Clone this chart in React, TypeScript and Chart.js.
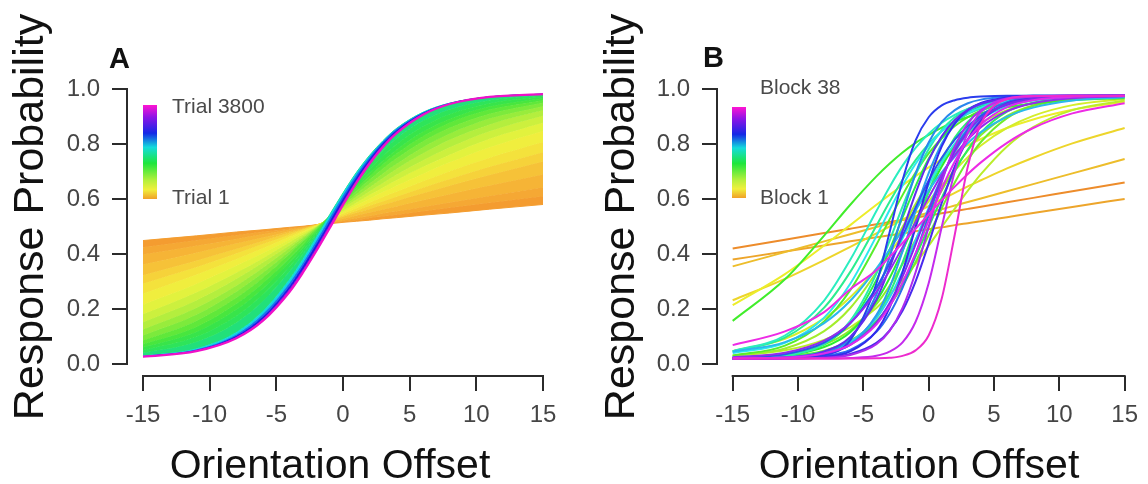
import React, { useEffect, useRef } from "react";
import { Chart, registerables } from "chart.js";

Chart.register(...registerables);

const FONT = "'Liberation Sans', Arial, Helvetica, sans-serif";

// shared sampling of orientation offsets (x) for every curve
const X_OFFSETS = [-15, -11, -8, -6, -4, -3, -2, -1, 0, 1, 2, 3, 4, 6, 8, 11, 15];
const X_TICKS = [-15, -10, -5, 0, 5, 10, 15];
const Y_TICKS = [0, 0.2, 0.4, 0.6, 0.8, 1.0];
const X_LIMITS = [-16.2, 16.2];
const Y_LIMITS = [-0.0432, 1.0432];
const X_TITLE = "Orientation Offset";
const Y_TITLE = "Response Probability";

// Panel A: response probability curves from Trial 1 (first row) to Trial 3800 (last row)
const TRIAL_CURVES: number[][] = [
  [0.449, 0.466, 0.480, 0.488, 0.497, 0.501, 0.506, 0.510, 0.515, 0.519, 0.523, 0.528, 0.532, 0.541, 0.549, 0.563, 0.580],
  [0.425, 0.450, 0.468, 0.481, 0.493, 0.499, 0.506, 0.512, 0.518, 0.524, 0.531, 0.537, 0.543, 0.555, 0.568, 0.586, 0.610],
  [0.398, 0.430, 0.455, 0.472, 0.488, 0.497, 0.505, 0.513, 0.522, 0.530, 0.538, 0.547, 0.555, 0.571, 0.587, 0.611, 0.643],
  [0.362, 0.405, 0.438, 0.460, 0.483, 0.494, 0.506, 0.517, 0.528, 0.540, 0.551, 0.562, 0.573, 0.595, 0.617, 0.649, 0.689],
  [0.323, 0.376, 0.418, 0.447, 0.477, 0.491, 0.506, 0.521, 0.535, 0.550, 0.564, 0.579, 0.593, 0.621, 0.648, 0.687, 0.736],
  [0.292, 0.352, 0.402, 0.436, 0.470, 0.488, 0.505, 0.523, 0.540, 0.557, 0.575, 0.592, 0.608, 0.641, 0.673, 0.717, 0.770],
  [0.256, 0.325, 0.381, 0.421, 0.463, 0.483, 0.504, 0.525, 0.546, 0.566, 0.587, 0.607, 0.626, 0.664, 0.701, 0.750, 0.807],
  [0.216, 0.291, 0.357, 0.404, 0.453, 0.478, 0.502, 0.527, 0.552, 0.577, 0.601, 0.625, 0.648, 0.692, 0.733, 0.788, 0.847],
  [0.181, 0.260, 0.332, 0.385, 0.443, 0.471, 0.500, 0.529, 0.557, 0.586, 0.615, 0.642, 0.668, 0.717, 0.761, 0.819, 0.877],
  [0.152, 0.231, 0.309, 0.369, 0.432, 0.465, 0.498, 0.531, 0.565, 0.597, 0.628, 0.658, 0.688, 0.741, 0.788, 0.846, 0.902],
  [0.126, 0.204, 0.285, 0.350, 0.422, 0.459, 0.496, 0.533, 0.571, 0.608, 0.643, 0.676, 0.709, 0.766, 0.815, 0.871, 0.922],
  [0.104, 0.179, 0.263, 0.332, 0.410, 0.452, 0.494, 0.536, 0.577, 0.617, 0.656, 0.693, 0.727, 0.788, 0.837, 0.892, 0.937],
  [0.086, 0.157, 0.241, 0.314, 0.400, 0.446, 0.491, 0.538, 0.585, 0.628, 0.671, 0.711, 0.747, 0.810, 0.859, 0.910, 0.950],
  [0.072, 0.135, 0.219, 0.295, 0.386, 0.435, 0.487, 0.538, 0.589, 0.638, 0.683, 0.726, 0.764, 0.828, 0.877, 0.925, 0.959],
  [0.061, 0.117, 0.198, 0.275, 0.371, 0.424, 0.480, 0.536, 0.591, 0.644, 0.694, 0.739, 0.778, 0.844, 0.891, 0.936, 0.965],
  [0.050, 0.099, 0.175, 0.254, 0.356, 0.414, 0.475, 0.536, 0.597, 0.655, 0.708, 0.756, 0.798, 0.863, 0.908, 0.948, 0.971],
  [0.040, 0.080, 0.150, 0.229, 0.337, 0.400, 0.468, 0.537, 0.605, 0.668, 0.725, 0.776, 0.819, 0.884, 0.925, 0.959, 0.976],
  [0.030, 0.057, 0.116, 0.193, 0.309, 0.383, 0.462, 0.543, 0.622, 0.696, 0.759, 0.812, 0.856, 0.915, 0.948, 0.971, 0.981],
  [0.029, 0.053, 0.108, 0.182, 0.296, 0.368, 0.448, 0.531, 0.613, 0.688, 0.753, 0.809, 0.854, 0.914, 0.948, 0.971, 0.981],
  [0.028, 0.051, 0.103, 0.173, 0.284, 0.357, 0.436, 0.519, 0.602, 0.678, 0.746, 0.803, 0.849, 0.912, 0.947, 0.971, 0.981],
  [0.027, 0.049, 0.098, 0.165, 0.274, 0.344, 0.423, 0.506, 0.590, 0.668, 0.738, 0.797, 0.844, 0.910, 0.946, 0.971, 0.981],
  [0.027, 0.047, 0.094, 0.158, 0.263, 0.333, 0.411, 0.494, 0.578, 0.658, 0.729, 0.789, 0.838, 0.906, 0.945, 0.971, 0.981],
];
// colour of the band that ends at each trial curve (index 0 = Trial 1 line colour)
const TRIAL_BAND_COLORS = [
  "#f4a032", "#f49c30", "#f5a834", "#f6b436", "#f6c238", "#f6d23a", "#f4e23c", "#f0ee3e",
  "#e2f23e", "#ccf03e", "#b4ee3e", "#98ec3c", "#7cea3c", "#60e83a", "#48e63e", "#38e44a",
  "#2ee45a", "#22e07a", "#12d8e0", "#1478f0", "#2418e0", "#9a10e0",
];
const TRIAL_FINAL_COLOR = "#f010c8";

// Panel B: fitted curves for Block 1 .. Block 38
const BLOCK_CURVES: number[][] = [
  [0.420, 0.452, 0.476, 0.492, 0.508, 0.516, 0.524, 0.532, 0.540, 0.548, 0.556, 0.564, 0.572, 0.588, 0.604, 0.628, 0.660],
  [0.380, 0.409, 0.431, 0.446, 0.461, 0.468, 0.475, 0.483, 0.490, 0.497, 0.505, 0.512, 0.519, 0.534, 0.549, 0.571, 0.600],
  [0.355, 0.407, 0.446, 0.472, 0.498, 0.511, 0.524, 0.537, 0.550, 0.563, 0.576, 0.589, 0.602, 0.628, 0.654, 0.693, 0.745],
  [0.232, 0.310, 0.378, 0.426, 0.475, 0.500, 0.525, 0.550, 0.574, 0.599, 0.622, 0.646, 0.668, 0.711, 0.750, 0.802, 0.858],
  [0.214, 0.327, 0.431, 0.505, 0.579, 0.615, 0.650, 0.683, 0.715, 0.744, 0.771, 0.796, 0.818, 0.858, 0.889, 0.924, 0.953],
  [0.047, 0.092, 0.166, 0.243, 0.346, 0.404, 0.466, 0.529, 0.591, 0.649, 0.703, 0.752, 0.794, 0.858, 0.902, 0.941, 0.963],
  [0.030, 0.050, 0.088, 0.134, 0.204, 0.251, 0.305, 0.365, 0.430, 0.498, 0.565, 0.630, 0.690, 0.791, 0.861, 0.923, 0.958],
  [0.029, 0.057, 0.120, 0.204, 0.334, 0.413, 0.498, 0.582, 0.661, 0.731, 0.791, 0.837, 0.875, 0.923, 0.949, 0.966, 0.973],
  [0.024, 0.037, 0.071, 0.123, 0.218, 0.284, 0.364, 0.452, 0.543, 0.631, 0.711, 0.777, 0.832, 0.902, 0.940, 0.964, 0.972],
  [0.022, 0.028, 0.049, 0.085, 0.157, 0.213, 0.285, 0.371, 0.468, 0.566, 0.660, 0.741, 0.807, 0.894, 0.938, 0.964, 0.973],
  [0.031, 0.067, 0.155, 0.269, 0.434, 0.525, 0.614, 0.696, 0.766, 0.821, 0.865, 0.897, 0.921, 0.949, 0.963, 0.971, 0.974],
  [0.157, 0.308, 0.467, 0.579, 0.682, 0.728, 0.769, 0.804, 0.833, 0.859, 0.881, 0.898, 0.912, 0.933, 0.947, 0.959, 0.966],
  [0.022, 0.031, 0.062, 0.116, 0.229, 0.312, 0.412, 0.519, 0.625, 0.718, 0.795, 0.852, 0.893, 0.940, 0.961, 0.971, 0.975],
  [0.022, 0.032, 0.072, 0.150, 0.306, 0.414, 0.533, 0.647, 0.746, 0.821, 0.876, 0.912, 0.936, 0.960, 0.969, 0.974, 0.975],
  [0.021, 0.026, 0.045, 0.079, 0.154, 0.215, 0.294, 0.391, 0.498, 0.604, 0.701, 0.780, 0.841, 0.917, 0.950, 0.969, 0.974],
  [0.020, 0.024, 0.039, 0.076, 0.172, 0.257, 0.369, 0.498, 0.626, 0.738, 0.823, 0.881, 0.919, 0.956, 0.969, 0.974, 0.975],
  [0.046, 0.096, 0.205, 0.335, 0.503, 0.589, 0.670, 0.741, 0.800, 0.847, 0.882, 0.909, 0.929, 0.952, 0.964, 0.971, 0.974],
  [0.021, 0.031, 0.073, 0.157, 0.329, 0.447, 0.572, 0.688, 0.781, 0.850, 0.897, 0.927, 0.946, 0.965, 0.971, 0.974, 0.975],
  [0.047, 0.104, 0.231, 0.379, 0.556, 0.643, 0.721, 0.786, 0.837, 0.877, 0.906, 0.927, 0.942, 0.959, 0.968, 0.973, 0.975],
  [0.024, 0.039, 0.082, 0.152, 0.277, 0.362, 0.457, 0.557, 0.651, 0.733, 0.801, 0.853, 0.891, 0.937, 0.958, 0.970, 0.974],
  [0.040, 0.077, 0.169, 0.292, 0.465, 0.559, 0.649, 0.728, 0.794, 0.846, 0.884, 0.912, 0.932, 0.955, 0.966, 0.972, 0.975],
  [0.021, 0.025, 0.043, 0.080, 0.167, 0.241, 0.337, 0.450, 0.568, 0.679, 0.771, 0.839, 0.888, 0.941, 0.962, 0.972, 0.975],
  [0.045, 0.080, 0.149, 0.230, 0.347, 0.415, 0.487, 0.561, 0.632, 0.697, 0.754, 0.803, 0.843, 0.899, 0.932, 0.958, 0.970],
  [0.020, 0.022, 0.035, 0.071, 0.178, 0.277, 0.409, 0.557, 0.694, 0.801, 0.873, 0.918, 0.943, 0.966, 0.972, 0.975, 0.975],
  [0.020, 0.023, 0.041, 0.095, 0.253, 0.388, 0.545, 0.692, 0.805, 0.880, 0.923, 0.948, 0.961, 0.971, 0.975, 0.975, 0.975],
  [0.020, 0.022, 0.030, 0.052, 0.117, 0.182, 0.277, 0.400, 0.540, 0.671, 0.779, 0.855, 0.904, 0.952, 0.968, 0.974, 0.975],
  [0.023, 0.036, 0.078, 0.148, 0.277, 0.366, 0.467, 0.569, 0.667, 0.750, 0.816, 0.865, 0.901, 0.943, 0.961, 0.971, 0.975],
  [0.020, 0.021, 0.033, 0.087, 0.293, 0.477, 0.668, 0.813, 0.897, 0.940, 0.959, 0.968, 0.972, 0.975, 0.975, 0.975, 0.975],
  [0.020, 0.021, 0.026, 0.046, 0.120, 0.204, 0.334, 0.498, 0.661, 0.791, 0.875, 0.923, 0.949, 0.969, 0.975, 0.975, 0.975],
  [0.020, 0.021, 0.025, 0.037, 0.077, 0.122, 0.194, 0.301, 0.438, 0.586, 0.718, 0.817, 0.884, 0.947, 0.967, 0.974, 0.975],
  [0.020, 0.024, 0.046, 0.099, 0.235, 0.349, 0.483, 0.621, 0.740, 0.828, 0.887, 0.924, 0.946, 0.966, 0.972, 0.975, 0.975],
  [0.020, 0.024, 0.038, 0.070, 0.151, 0.221, 0.318, 0.435, 0.560, 0.677, 0.774, 0.844, 0.893, 0.944, 0.964, 0.973, 0.975],
  [0.025, 0.041, 0.085, 0.150, 0.263, 0.339, 0.425, 0.516, 0.605, 0.689, 0.759, 0.816, 0.861, 0.919, 0.948, 0.966, 0.973],
  [0.020, 0.020, 0.023, 0.033, 0.072, 0.120, 0.204, 0.334, 0.498, 0.661, 0.791, 0.875, 0.923, 0.962, 0.972, 0.975, 0.975],
  [0.020, 0.020, 0.020, 0.022, 0.030, 0.045, 0.079, 0.154, 0.294, 0.498, 0.701, 0.841, 0.917, 0.965, 0.973, 0.975, 0.975],
  [0.021, 0.024, 0.039, 0.070, 0.144, 0.209, 0.296, 0.403, 0.521, 0.637, 0.736, 0.815, 0.871, 0.934, 0.959, 0.971, 0.975],
  [0.069, 0.119, 0.189, 0.272, 0.341, 0.389, 0.440, 0.492, 0.544, 0.596, 0.645, 0.691, 0.733, 0.804, 0.858, 0.911, 0.948],
  [0.020, 0.020, 0.020, 0.020, 0.021, 0.023, 0.030, 0.050, 0.104, 0.238, 0.471, 0.718, 0.872, 0.963, 0.974, 0.975, 0.975],
];
const BLOCK_COLORS = [
  "#ed8c2b", "#eda52b", "#edbd2b", "#edd52b", "#eced2b", "#d4ed2b", "#bbed2b", "#a3ed2b",
  "#8aed2b", "#72ed2b", "#59ed2b", "#41ed2b", "#2bed2e", "#2bed46", "#2bed5f", "#2bed77",
  "#2bed90", "#2beda8", "#2bedc0", "#2bedd9", "#2be8ed", "#2bd0ed", "#2bb8ed", "#2b9fed",
  "#2b87ed", "#2b6eed", "#2b56ed", "#2b3ded", "#312bed", "#4a2bed", "#622bed", "#7b2bed",
  "#932bed", "#ac2bed", "#c42bed", "#dd2bed", "#ed2be5", "#ed2bcd",
];

// colour bar, top (last trial / block) to bottom (first)
const COLORBAR_STOPS: [number, string][] = [
  [0, "#ff14d2"], [0.13, "#8c14e6"], [0.3, "#1428e6"], [0.45, "#14dcdc"],
  [0.62, "#1ee63c"], [0.8, "#b4f03c"], [0.9, "#f0f03c"], [1, "#f0a028"],
];

type Decor = {
  letter: string; letterX: number; letterY: number;
  bar: { x: number; y: number; w: number; h: number };
  labelX: number; topLabel: string; topLabelY: number; bottomLabel: string; bottomLabelY: number;
  xTitleX: number; xTitleY: number; yTitleX: number; yTitleY: number;
};

function decorPlugin(d: Decor) {
  return {
    id: "panelDecor",
    afterDraw(chart: any) {
      const { ctx, chartArea, scales } = chart;
      const xs = scales.x;
      const ys = scales.y;
      ctx.save();
      // R-style detached axis lines spanning first..last tick
      ctx.strokeStyle = "#2b2b2b";
      ctx.lineWidth = 2;
      ctx.beginPath();
      ctx.moveTo(Math.round(chartArea.left), ys.getPixelForValue(Y_TICKS[0]) + 1);
      ctx.lineTo(Math.round(chartArea.left), ys.getPixelForValue(Y_TICKS[Y_TICKS.length - 1]) - 1);
      ctx.moveTo(xs.getPixelForValue(X_TICKS[0]) - 1, Math.round(chartArea.bottom));
      ctx.lineTo(xs.getPixelForValue(X_TICKS[X_TICKS.length - 1]) + 1, Math.round(chartArea.bottom));
      ctx.stroke();

      // axis titles
      ctx.fillStyle = "#111";
      ctx.textAlign = "center";
      ctx.textBaseline = "alphabetic";
      ctx.font = `41px ${FONT}`;
      ctx.fillText(X_TITLE, d.xTitleX, d.xTitleY);
      ctx.save();
      ctx.translate(d.yTitleX, d.yTitleY);
      ctx.rotate(-Math.PI / 2);
      ctx.font = `43px ${FONT}`;
      ctx.fillText(Y_TITLE, 0, 0);
      ctx.restore();

      // panel letter
      ctx.fillStyle = "#111";
      ctx.font = `bold 29px ${FONT}`;
      ctx.textAlign = "left";
      ctx.fillText(d.letter, d.letterX, d.letterY);

      // colour bar
      const g = ctx.createLinearGradient(0, d.bar.y, 0, d.bar.y + d.bar.h);
      COLORBAR_STOPS.forEach(([o, c]) => g.addColorStop(o, c));
      ctx.fillStyle = g;
      ctx.fillRect(d.bar.x, d.bar.y, d.bar.w, d.bar.h);

      ctx.fillStyle = "#4a4a4a";
      ctx.font = `21px ${FONT}`;
      ctx.textBaseline = "middle";
      ctx.fillText(d.topLabel, d.labelX, d.topLabelY);
      ctx.fillText(d.bottomLabel, d.labelX, d.bottomLabelY);
      ctx.restore();
    },
  };
}

function scaleOptions(yWidth: number) {
  return {
    x: {
      type: "linear",
      min: X_LIMITS[0],
      max: X_LIMITS[1],
      afterBuildTicks: (s: any) => { s.ticks = X_TICKS.map((v) => ({ value: v })); },
      afterFit: (s: any) => { s.height = 108; },
      ticks: {
        autoSkip: false, maxRotation: 0, minRotation: 0, color: "#454545",
        font: { family: FONT, size: 24 }, padding: 10,
        callback: (v: any) => String(v),
      },
      grid: { drawOnChartArea: false, drawTicks: true, tickLength: 15, color: "#2b2b2b", lineWidth: 2 },
      border: { display: false },
      title: { display: false, text: X_TITLE },
    },
    y: {
      type: "linear",
      min: Y_LIMITS[0],
      max: Y_LIMITS[1],
      afterBuildTicks: (s: any) => { s.ticks = Y_TICKS.map((v) => ({ value: v })); },
      afterFit: (s: any) => { s.width = yWidth; },
      ticks: {
        autoSkip: false, color: "#454545", font: { family: FONT, size: 24 }, padding: 12,
        callback: (v: any) => Number(v).toFixed(1),
      },
      grid: { drawOnChartArea: false, drawTicks: true, tickLength: 15, color: "#2b2b2b", lineWidth: 2 },
      border: { display: false },
      title: { display: false, text: Y_TITLE },
    },
  };
}

function toPoints(ys: number[]) {
  return X_OFFSETS.map((x, i) => ({ x, y: ys[i] }));
}

export default function App() {
  const refA = useRef<HTMLCanvasElement | null>(null);
  const refB = useRef<HTMLCanvasElement | null>(null);

  useEffect(() => {
    const last = TRIAL_CURVES.length - 1;
    const dsA = TRIAL_CURVES.map((ys, k) => ({
      label: k === 0 ? "Trial 1" : k === last ? "Trial 3800" : `Trial stage ${k}`,
      data: toPoints(ys),
      borderColor: k === last ? TRIAL_FINAL_COLOR : TRIAL_BAND_COLORS[k],
      backgroundColor: TRIAL_BAND_COLORS[k],
      borderWidth: k === last ? 2.2 : 1,
      fill: k === 0 ? false : "-1",
      pointRadius: 0,
      cubicInterpolationMode: "monotone",
      order: TRIAL_CURVES.length - k,
    }));

    const dsB = BLOCK_CURVES.map((ys, k) => ({
      label: `Block ${k + 1}`,
      data: toPoints(ys),
      borderColor: BLOCK_COLORS[k],
      backgroundColor: BLOCK_COLORS[k],
      borderWidth: 2,
      fill: false,
      pointRadius: 0,
      cubicInterpolationMode: "monotone",
      order: BLOCK_CURVES.length - k,
    }));

    const common = (yWidth: number, padRight: number) => ({
      responsive: false,
      maintainAspectRatio: false,
      animation: false,
      devicePixelRatio: 1,
      layout: { padding: { top: 77, right: padRight, bottom: 0, left: 0 } },
      plugins: { legend: { display: false }, tooltip: { enabled: false }, filler: { propagate: false } },
      scales: scaleOptions(yWidth),
    });

    const chartA = new Chart(refA.current as HTMLCanvasElement, {
      type: "line",
      data: { datasets: dsA as any },
      options: common(127, 15) as any,
      plugins: [decorPlugin({
        letter: "A", letterX: 109, letterY: 68,
        bar: { x: 143, y: 105, w: 14, h: 94 },
        labelX: 172, topLabel: "Trial 3800", topLabelY: 107, bottomLabel: "Trial 1", bottomLabelY: 198,
        xTitleX: 330, xTitleY: 478, yTitleX: 43, yTitleY: 217,
      })],
    });

    const chartB = new Chart(refB.current as HTMLCanvasElement, {
      type: "line",
      data: { datasets: dsB as any },
      options: common(143, 0) as any,
      plugins: [decorPlugin({
        letter: "B", letterX: 129, letterY: 67,
        bar: { x: 158, y: 107, w: 14, h: 91 },
        labelX: 186, topLabel: "Block 38", topLabelY: 88, bottomLabel: "Block 1", bottomLabelY: 198,
        xTitleX: 345, xTitleY: 478, yTitleX: 60, yTitleY: 217,
      })],
    });

    return () => {
      chartA.destroy();
      chartB.destroy();
    };
  }, []);

  return (
    <div style={{ position: "absolute", left: 0, top: 0, width: 1148, height: 484, background: "#fff" }}>
      <canvas ref={refA} width={574} height={484} style={{ position: "absolute", left: 0, top: 0 }} />
      <canvas ref={refB} width={574} height={484} style={{ position: "absolute", left: 574, top: 0 }} />
    </div>
  );
}
